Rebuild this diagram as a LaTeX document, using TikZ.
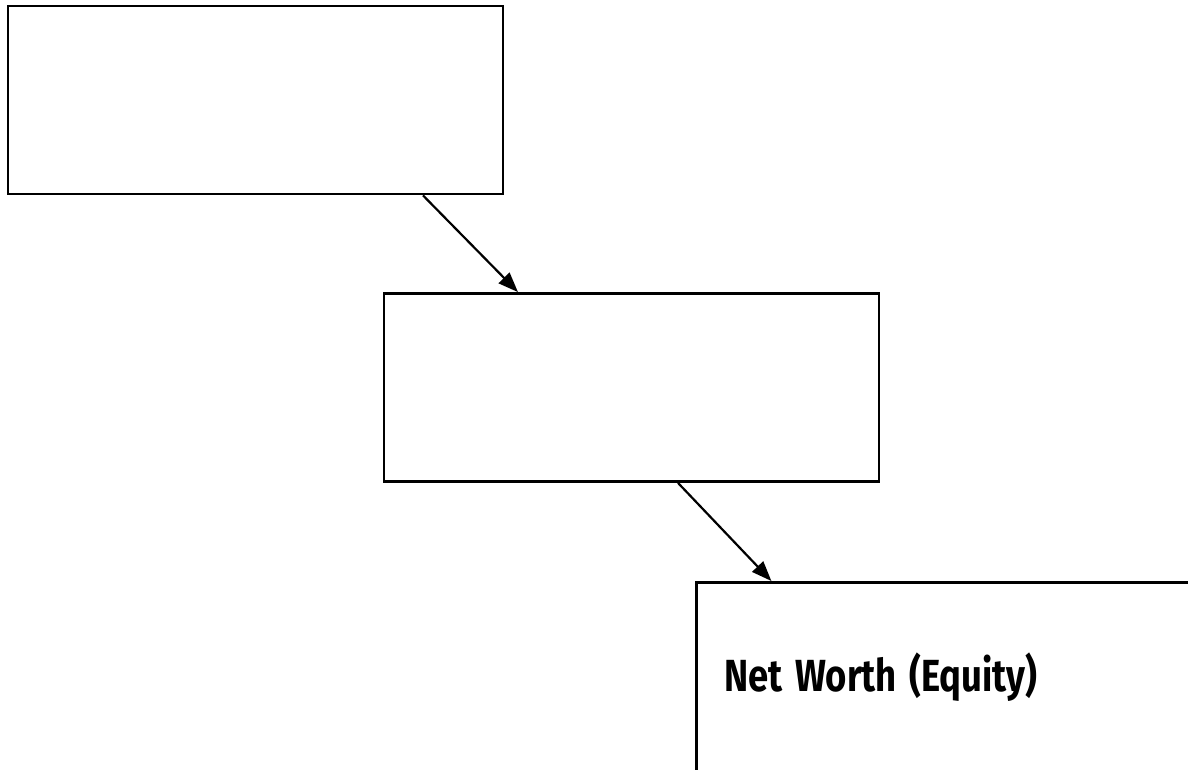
\documentclass[tikz,border=0pt]{standalone}
\usepackage{fontspec}
\setmainfont{Fira Sans}
\newfontfamily\lblfont[FakeStretch=0.81]{Fira Sans}
\usetikzlibrary{arrows.meta}
\begin{document}
\begin{tikzpicture}[x=1pt,y=-1pt,
  box/.style={draw=black,line width=2.8pt,minimum width=495pt,minimum height=188pt,inner sep=0pt,fill=white},
  conn/.style={line width=2.2pt,-{Triangle[length=20pt,width=15pt]}}]
\useasboundingbox (0,0) rectangle (1188,769);
\clip (0,0) rectangle (1188,769);
\node[box] (b1) at (255.5,100) {};
\node[box] (b2) at (631.5,387.5) {};
\node[box,minimum height=189pt,align=left,anchor=north west,text width=439pt,inner xsep=28pt,
  font=\lblfont\fontsize{45}{50}\selectfont\bfseries] (b3) at (695,581) {Net\hspace{12.5pt}Worth\hspace{12.5pt}(Equity)};
\draw[conn] ([xshift=167.5pt]b1.south) -- ([xshift=-113.5pt]b2.north);
\draw[conn] ([xshift=46.5pt]b2.south) -- ([xshift=-172.5pt]b3.north);
\end{tikzpicture}
\end{document}
